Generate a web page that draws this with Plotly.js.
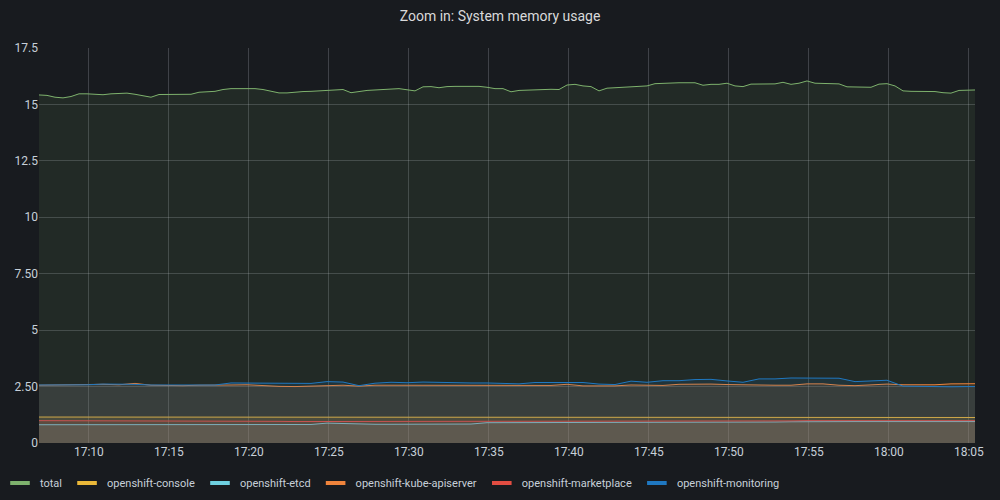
<!DOCTYPE html>
<html>
<head>
<meta charset="utf-8">
<script src="https://cdn.plot.ly/plotly-3.0.1.min.js"></script>
<style>
  html, body { margin: 0; padding: 0; background: #181b1f; }
  #chart { width: 1000px; height: 500px; }
</style>
</head>
<body>
<div id="chart"></div>
<script>
// ---- data (GiB) ----
const seriesNames = ["total", "openshift-console", "openshift-etcd", "openshift-kube-apiserver", "openshift-marketplace", "openshift-monitoring"];
const seriesColors = ["#7EB26D", "#EAB839", "#6ED0E0", "#EF843C", "#E24D42", "#1F78C1"];

// total: sampled every 30 s starting 17:06:53
const totalValues = [
  15.42,15.40,15.32,15.29,15.35,15.47,15.47,15.45,15.43,15.47,
  15.47,15.50,15.45,15.38,15.32,15.44,15.44,15.42,15.42,15.45,
  15.54,15.55,15.58,15.66,15.70,15.70,15.71,15.70,15.66,15.58,
  15.51,15.51,15.55,15.57,15.58,15.60,15.62,15.64,15.66,15.52,
  15.58,15.62,15.64,15.67,15.68,15.70,15.65,15.60,15.78,15.79,
  15.74,15.79,15.80,15.80,15.80,15.80,15.76,15.70,15.70,15.56,
  15.62,15.63,15.66,15.68,15.67,15.66,15.86,15.89,15.82,15.79,
  15.60,15.72,15.74,15.77,15.81,15.82,15.82,15.92,15.94,15.93,
  15.96,15.96,15.96,15.85,15.89,15.89,15.94,15.82,15.79,15.90,
  15.91,15.91,15.91,15.98,15.89,15.94,16.04,15.94,15.92,15.92,
  15.91,15.78,15.77,15.77,15.76,15.90,15.92,15.82,15.60,15.58,
  15.58,15.58,15.57,15.52,15.50,15.62,15.64,15.64
];

// namespaces: sampled every 60 s starting 17:06:53
const consoleValues = [
  1.15,1.15,1.15,1.15,1.15,1.15,1.15,1.15,1.15,1.15,
  1.15,1.15,1.15,1.15,1.15,1.14,1.13,1.13,1.13,1.13,
  1.14,1.14,1.14,1.14,1.14,1.14,1.14,1.14,1.14,1.14,
  1.14,1.14,1.14,1.14,1.14,1.14,1.14,1.13,1.13,1.13,
  1.13,1.13,1.13,1.13,1.13,1.13,1.13,1.13,1.13,1.13,
  1.13,1.13,1.13,1.13,1.13,1.13,1.13,1.13,1.13,1.13
];
const etcdValues = [
  0.81,0.81,0.81,0.81,0.81,0.81,0.81,0.81,0.81,0.81,
  0.81,0.81,0.81,0.81,0.81,0.81,0.81,0.82,0.88,0.86,
  0.83,0.83,0.83,0.83,0.83,0.83,0.83,0.84,0.90,0.90,
  0.90,0.91,0.91,0.93,0.93,0.93,0.93,0.93,0.93,0.93,
  0.93,0.93,0.93,0.93,0.93,0.93,0.93,0.94,0.95,0.95,
  0.95,0.95,0.95,0.95,0.95,0.95,0.95,0.95,0.95,0.95
];
const apiserverValues = [
  2.56,2.57,2.58,2.61,2.60,2.58,2.64,2.56,2.54,2.54,
  2.56,2.58,2.57,2.58,2.54,2.51,2.50,2.51,2.54,2.56,
  2.52,2.56,2.56,2.56,2.55,2.55,2.55,2.55,2.55,2.54,
  2.54,2.55,2.55,2.60,2.53,2.53,2.53,2.57,2.57,2.55,
  2.60,2.62,2.61,2.59,2.57,2.56,2.56,2.56,2.62,2.62,
  2.56,2.54,2.56,2.61,2.58,2.58,2.58,2.62,2.63,2.63
];
const marketplaceValues = [
  0.99,0.99,0.99,0.99,0.99,0.99,0.99,0.99,0.99,0.99,
  0.99,0.99,0.99,0.98,0.97,0.96,0.95,0.95,0.95,0.95,
  0.95,0.95,0.95,0.95,0.95,0.95,0.95,0.95,0.95,0.95,
  0.95,0.95,0.95,0.96,0.96,0.96,0.96,0.97,0.97,0.98,
  0.98,0.98,0.98,0.98,0.98,0.98,0.98,0.98,0.99,0.99,
  0.99,0.99,0.99,0.99,0.99,0.99,0.99,0.99,0.99,0.99
];
const monitoringValues = [
  2.57,2.57,2.57,2.58,2.61,2.61,2.60,2.57,2.57,2.57,
  2.56,2.57,2.66,2.66,2.63,2.63,2.63,2.64,2.72,2.70,
  2.54,2.65,2.69,2.67,2.70,2.68,2.66,2.66,2.66,2.65,
  2.62,2.68,2.69,2.68,2.68,2.61,2.59,2.74,2.69,2.76,
  2.76,2.81,2.82,2.75,2.69,2.84,2.84,2.88,2.88,2.88,
  2.87,2.72,2.74,2.78,2.52,2.50,2.50,2.49,2.50,2.50
];

const yTickVals = [0, 2.5, 5, 7.5, 10, 12.5, 15, 17.5];
const yTickText = ["0", "2.50", "5", "7.50", "10", "12.5", "15", "17.5"];

// ---- time axis helpers ----
const startSec = 17 * 3600 + 6 * 60 + 53;
function pad(n) { return (n < 10 ? "0" : "") + n; }
function stamp(offsetSec) {
  const s = startSec + offsetSec;
  const h = Math.floor(s / 3600), m = Math.floor((s % 3600) / 60), ss = s % 60;
  return "2021-01-01 " + pad(h) + ":" + pad(m) + ":" + pad(ss);
}
function times(n, step) { const out = []; for (let i = 0; i < n; i++) out.push(stamp(i * step)); return out; }

function hexA(hex, a) {
  const r = parseInt(hex.slice(1, 3), 16), g = parseInt(hex.slice(3, 5), 16), b = parseInt(hex.slice(5, 7), 16);
  return "rgba(" + r + "," + g + "," + b + "," + a + ")";
}

const allValues = [totalValues, consoleValues, etcdValues, apiserverValues, marketplaceValues, monitoringValues];
const steps = [30, 60, 60, 60, 60, 60];
const fillAlpha = [0.1, 0.13, 0.13, 0.13, 0.13, 0.13];

const traces = [];
allValues.forEach((vals, i) => {
  traces.push({
    type: "scatter", mode: "lines",
    x: times(vals.length, steps[i]), y: vals,
    name: seriesNames[i], legendgroup: seriesNames[i], showlegend: false,
    line: { color: seriesColors[i], width: 1 },
    fill: "tozeroy", fillcolor: hexA(seriesColors[i], fillAlpha[i]),
    hoverinfo: "x+y+name"
  });
});
// legend entries (short bar symbols like Grafana)
seriesNames.forEach((nm, i) => {
  traces.push({
    type: "scatter", mode: "markers", x: [null], y: [null],
    name: nm, legendgroup: nm, showlegend: true,
    marker: { symbol: "line-ew", size: 14, line: { color: seriesColors[i], width: 4 } }
  });
});

const layout = {
  width: 1000, height: 500,
  paper_bgcolor: "#181b1f", plot_bgcolor: "#181b1f",
  margin: { l: 39, r: 25, t: 48, b: 57 },
  font: { family: "Roboto, 'Noto Sans', sans-serif", size: 12, color: "#c7d0d9" },
  title: { text: "Zoom in: System memory usage", x: 0.5, xref: "container", y: 0.968, yref: "container", yanchor: "middle",
           font: { size: 14, color: "#d8d9da", family: "Roboto, sans-serif" } },
  xaxis: {
    type: "date",
    range: [stamp(0), stamp(3510)],
    tick0: "2021-01-01 17:10:00", dtick: 300000, tickformat: "%H:%M",
    showgrid: true, gridcolor: "rgba(204,204,220,0.22)", gridwidth: 1,
    zeroline: false, showline: false, ticks: "",
    tickfont: { size: 12, color: "#c7d0d9" }
  },
  yaxis: {
    range: [0, 17.5], tickvals: yTickVals, ticktext: yTickText,
    showgrid: true, gridcolor: "rgba(204,204,220,0.22)", gridwidth: 1,
    zeroline: false, showline: false, ticks: "",
    tickfont: { size: 12, color: "#c7d0d9" }
  },
  showlegend: true,
  legend: {
    orientation: "h", xref: "container", yref: "container",
    x: 0.0, xanchor: "left", y: 0.034, yanchor: "middle",
    bgcolor: "rgba(0,0,0,0)", font: { size: 11, color: "#c7d0d9" },
    itemwidth: 30, tracegroupgap: 0
  },
  hovermode: "x"
};

Plotly.newPlot("chart", traces, layout, { displayModeBar: false, staticPlot: false });
</script>
</body>
</html>
